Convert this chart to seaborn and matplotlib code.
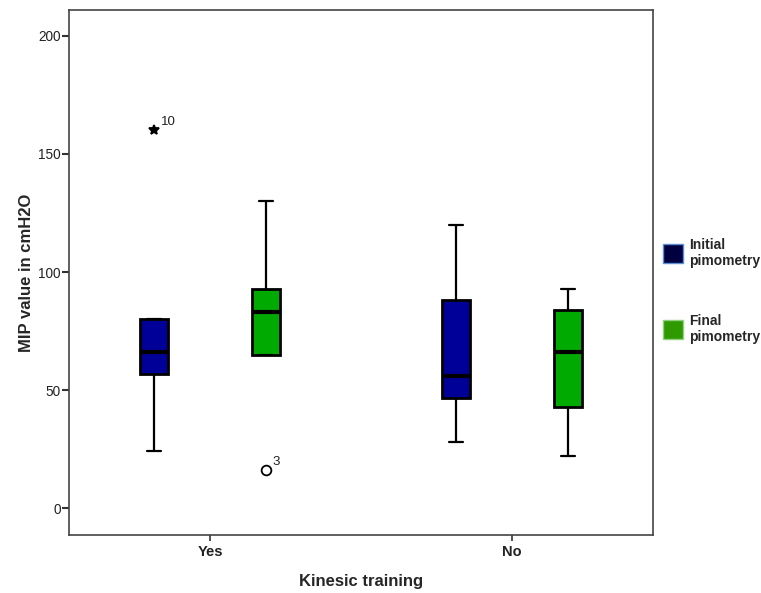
import matplotlib
matplotlib.use("Agg")
import matplotlib.pyplot as plt
from matplotlib.patches import Patch
import seaborn as sns
import pandas as pd

# ---- data ----
groups = ["Yes", "No"]
series = ["Initial pimometry", "Final pimometry"]
yes_initial = [24, 57, 57, 66, 66, 80, 80, 80, 160]
yes_final = [16, 65, 65, 65, 83, 83, 93, 93, 130]
no_initial = [28, 46.5, 56, 88, 120]
no_final = [22, 43, 66, 84, 93]
outlier_labels = {160: "10", 16: "3"}
yticks = [0, 50, 100, 150, 200]

rows = []
for g, s, vals in [("Yes", series[0], yes_initial), ("Yes", series[1], yes_final),
                   ("No", series[0], no_initial), ("No", series[1], no_final)]:
    for v in vals:
        rows.append({"training": g, "measure": s, "value": v})
df = pd.DataFrame(rows)

sns.set_theme(style="white")
plt.rcParams["font.family"] = ["Liberation Sans", "DejaVu Sans"]

fig = plt.figure(figsize=(7.61, 5.93), dpi=100)
ax = fig.add_axes([69 / 761, 58 / 593, (653 - 69) / 761, (535 - 10) / 593])

box_colors = {"Initial pimometry": "#000099", "Final pimometry": "#00aa00"}
sns.boxplot(data=df, x="training", y="value", hue="measure", order=groups,
            hue_order=series, palette=box_colors, saturation=1,
            width=0.74, gap=0.75, linecolor="black", linewidth=1.6,
            whis=1.5, legend=False, ax=ax,
            medianprops=dict(linewidth=3, color="black"),
            boxprops=dict(linewidth=2, edgecolor="black"),
            flierprops=dict(marker="o", markersize=7, markerfacecolor="none",
                            markeredgecolor="black", markeredgewidth=1.3))

# mark extreme outlier with a star and label case numbers
for line in list(ax.lines):
    if line.get_marker() == "o" and len(line.get_ydata()) > 0:
        xs, ys = line.get_xdata(), line.get_ydata()
        for xv, yv in zip(xs, ys):
            if yv in outlier_labels:
                if yv > 150:
                    line.set_marker("*")
                    line.set_markerfacecolor("black")
                    line.set_markersize(7.5)
                ax.annotate(outlier_labels[yv], (xv, yv), xytext=(5, 4),
                            textcoords="offset points", fontsize=9.5, color="#222")

ax.set_xlim(-0.467, 1.467)
ax.set_ylim(-11.4, 211)
ax.set_yticks(yticks)
ax.tick_params(axis="y", direction="out", length=5, width=1.5, color="#333",
               labelsize=9.8, labelcolor="#222", left=True, pad=1)
ax.tick_params(axis="x", direction="out", length=4, width=1.2, color="#333",
               labelsize=10.5, labelcolor="#222", bottom=True, pad=3)
for lab in ax.get_xticklabels():
    lab.set_fontweight("bold")
for sp in ax.spines.values():
    sp.set_color("#444")
    sp.set_linewidth(1.2)
    sp.set_visible(True)

ax.set_xlabel("Kinesic training", fontsize=12, fontweight="bold", labelpad=11)
ax.set_ylabel("MIP value in cmH2O", fontsize=12, fontweight="bold", labelpad=3)

handles = [Patch(facecolor="#000040", edgecolor="#5b8fd0", linewidth=1),
           Patch(facecolor="#2e9a00", edgecolor="#8ed080", linewidth=1)]
labels = ["Initial\npimometry", "Final\npimometry"]
fig.legend(handles, labels, loc="upper left", bbox_to_anchor=(657 / 761, 1 - 232 / 593),
           frameon=False, prop=dict(weight="bold", size=10),
           handlelength=1.45, handleheight=1.7, handletextpad=0.45, labelspacing=3.3,
           borderaxespad=0)

fig.savefig("out.png", dpi=100)
